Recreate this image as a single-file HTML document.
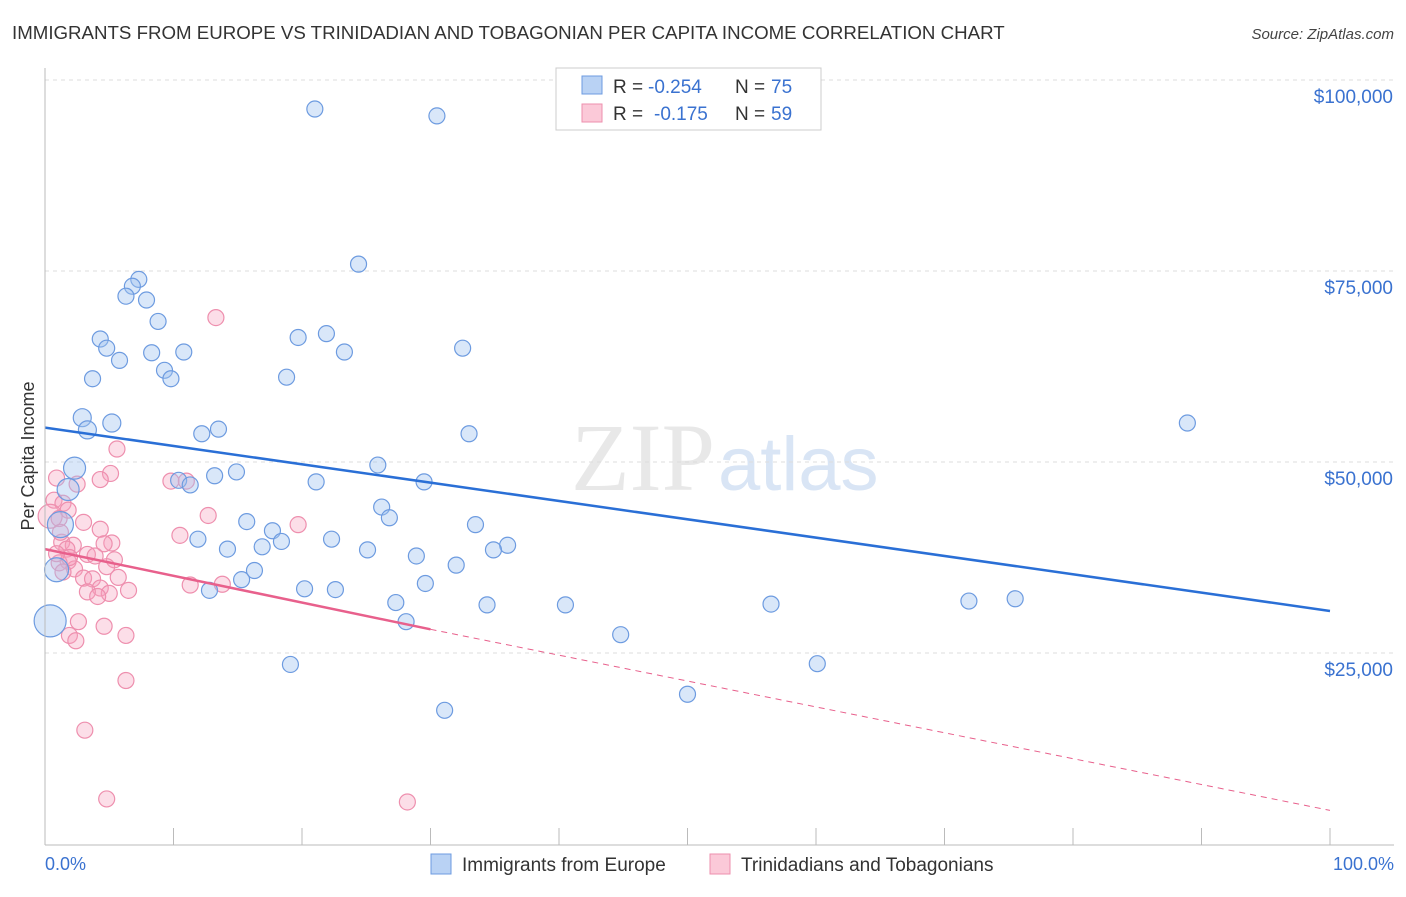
<!DOCTYPE html>
<html><head><meta charset="utf-8"><style>
body{margin:0;background:#fff;font-family:"Liberation Sans",sans-serif;}
</style></head><body>
<svg id="chart" width="1406" height="892" xmlns="http://www.w3.org/2000/svg" font-family="Liberation Sans, sans-serif">
<text x="12" y="39" font-size="18.7" fill="#333">IMMIGRANTS FROM EUROPE VS TRINIDADIAN AND TOBAGONIAN PER CAPITA INCOME CORRELATION CHART</text>
<text x="1394" y="39" font-size="15" fill="#444" font-style="italic" text-anchor="end">Source: ZipAtlas.com</text>
<text x="715" y="490" font-size="96" fill="#e8e8e8" text-anchor="end" font-family="Liberation Serif, serif">ZIP</text>
<text x="718" y="490" font-size="76" fill="#d9e5f5">atlas</text>
<g id="grid"></g><g id="pts"></g><g id="trend"></g>
<line x1="45" y1="68" x2="45" y2="845" stroke="#bbb"/>
<line x1="45" y1="845" x2="1394" y2="845" stroke="#bbb"/>
<text transform="translate(34,456) rotate(-90)" font-size="18" fill="#333" text-anchor="middle">Per Capita Income</text>
<text x="45" y="870" font-size="18" fill="#3a72d0">0.0%</text>
<text x="1394" y="870" font-size="18" fill="#3a72d0" text-anchor="end">100.0%</text>
<g>
<rect x="556" y="68" width="265" height="62" fill="#fff" stroke="#ccc"/>
<rect x="582" y="76" width="20" height="18" fill="#b9d2f4" stroke="#6d9be0"/>
<rect x="582" y="104" width="20" height="18" fill="#fbc9d8" stroke="#ee8fae"/>
<text x="613" y="93" font-size="19" fill="#333">R =</text>
<text x="648" y="93" font-size="19" fill="#3a72d0">-0.254</text>
<text x="735" y="93" font-size="19" fill="#333">N =</text>
<text x="771" y="93" font-size="19" fill="#3a72d0">75</text>
<text x="613" y="120" font-size="19" fill="#333">R =</text>
<text x="654" y="120" font-size="19" fill="#3a72d0">-0.175</text>
<text x="735" y="120" font-size="19" fill="#333">N =</text>
<text x="771" y="120" font-size="19" fill="#3a72d0">59</text>
</g>
<g>
<rect x="431" y="854" width="20" height="20" fill="#b9d2f4" stroke="#6d9be0"/>
<text x="462" y="871" font-size="19" fill="#333">Immigrants from Europe</text>
<rect x="710" y="854" width="20" height="20" fill="#fbc9d8" stroke="#ee8fae"/>
<text x="741" y="871" font-size="19" fill="#333">Trinidadians and Tobagonians</text>
</g>
</svg>
<script>
const yTicks=[25000,50000,75000,100000];
const yTickLabels=["$25,000","$50,000","$75,000","$100,000"];
const xTicks=[0,10,20,30,40,50,60,70,80,90,100];
const blueX=[21.0,30.5,24.4,7.3,6.8,6.3,7.9,8.8,4.3,19.7,21.9,4.8,8.3,10.8,23.3,32.5,5.8,9.3,9.8,3.7,18.8,2.9,5.2,3.3,13.5,12.2,33.0,88.9,2.3,25.9,10.4,13.2,14.9,11.3,21.1,29.5,1.8,26.2,26.8,15.7,33.5,17.7,1.2,22.3,11.9,18.4,14.2,16.9,36.0,34.9,25.1,28.9,32.0,16.3,0.9,15.3,12.8,20.2,22.6,29.6,27.3,34.4,40.5,56.5,71.9,75.5,28.1,0.4,44.8,19.1,60.1,50.0,31.1];
const blueY=[96200,95300,75900,73900,73000,71700,71200,68400,66100,66300,66800,64900,64300,64400,64400,64900,63300,62000,60900,60900,61100,55800,55100,54200,54300,53700,53700,55100,49200,49600,47600,48200,48700,47000,47400,47400,46400,44100,42700,42200,41800,41000,41800,39900,39900,39600,38600,38900,39100,38500,38500,37700,36500,35800,35900,34600,33200,33400,33300,34100,31600,31300,31300,31400,31800,32100,29100,29200,27400,23500,23600,19600,17500];
const blueR=[8,8,8,8,8,8,8,8,8,8,8,8,8,8,8,8,8,8,8,8,8,9,9,9,8,8,8,8,11,8,8,8,8,8,8,8,11,8,8,8,8,8,13,8,8,8,8,8,8,8,8,8,8,8,12,8,8,8,8,8,8,8,8,8,8,8,8,16,8,8,8,8,8];
const pinkX=[13.3,5.6,5.1,4.3,9.8,11.0,0.9,2.5,0.7,1.4,1.8,0.4,1.1,12.7,19.7,3.0,4.3,10.5,1.3,2.2,5.2,4.6,1.7,3.3,3.9,5.4,1.8,1.1,4.8,2.3,1.4,3.0,5.7,3.7,11.3,13.8,4.3,6.5,3.3,5.0,4.1,2.6,4.6,1.9,6.3,2.4,6.3,3.1,4.8,28.2,1.9,1.2,0.9];
const pinkY=[68900,51700,48500,47700,47500,47500,47900,47100,45000,44600,43700,42900,42600,43000,41800,42100,41200,40400,39500,39100,39400,39300,38600,37900,37700,37200,37000,36800,36300,36000,35600,34800,34900,34700,33900,34000,33500,33200,33000,32800,32400,29100,28500,27300,27300,26600,21400,14900,5900,5500,37500,40800,38000];
const blueFit=[54500,30500];
const pinkFit=[38600,28100,4400];
const ns="http://www.w3.org/2000/svg";
const X=p=>45+p*12.85, Y=v=>653-(v-25000)*191/25000;
function mk(t,a,parent){const e=document.createElementNS(ns,t);for(const k in a)e.setAttribute(k,a[k]);document.getElementById(parent).appendChild(e);return e;}
yTicks.forEach((v,i)=>{
 const l=mk('line',{x1:45,x2:1394,y1:Y(v),y2:Y(v),stroke:'#ddd','stroke-dasharray':'4,4'},'grid');
 
 
 const t=mk('text',{x:1393,y:Y(v)+23,'font-size':19,fill:'#3a72d0','text-anchor':'end'},'grid');t.textContent=yTickLabels[i];
 
 
});
xTicks.forEach(p=>{
 const l=mk('line',{x1:X(p),x2:X(p),y1:845,y2:828,stroke:'#bbb'},'grid');
 
 
});
pinkX.forEach((x,i)=>{
 const c=mk('circle',{cx:X(x),cy:Y(pinkY[i]),r:i==11?12:8,fill:'rgba(246,160,188,0.35)',stroke:'#ee8fae','stroke-width':1.2},'pts');
 
 
});
blueX.forEach((x,i)=>{
 const c=mk('circle',{cx:X(x),cy:Y(blueY[i]),r:blueR[i],fill:'rgba(160,195,240,0.4)',stroke:'#6d9be0','stroke-width':1.2},'pts');
 
 
});
let l=mk('line',{x1:X(0),y1:Y(blueFit[0]),x2:X(100),y2:Y(blueFit[1]),stroke:'#2a6fd6','stroke-width':2.5},'trend');


l=mk('line',{x1:X(0),y1:Y(pinkFit[0]),x2:X(30),y2:Y(pinkFit[1]),stroke:'#e8608c','stroke-width':2.5},'trend');


l=mk('line',{x1:X(30),y1:Y(pinkFit[1]),x2:X(100),y2:Y(pinkFit[2]),stroke:'#e8608c','stroke-width':1,'stroke-dasharray':'6,5'},'trend');


</script>
</body></html>
